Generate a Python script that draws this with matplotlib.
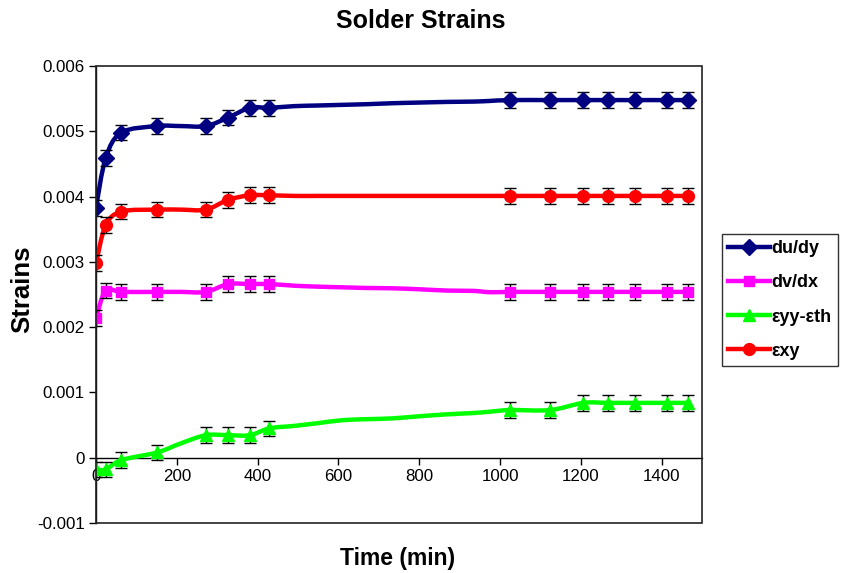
import numpy as np
import matplotlib
matplotlib.use("Agg")
import matplotlib.pyplot as plt
from matplotlib.path import Path
from matplotlib.patches import PathPatch, Rectangle
from matplotlib.lines import Line2D

plt.rcParams['font.family'] = ['Liberation Sans', 'DejaVu Sans']

# ---- data ----
time_min = [0, 24, 63, 151, 210, 272, 327, 381, 429, 490, 550, 610, 670, 735,
            800, 870, 935, 975, 1025, 1124, 1206, 1268, 1334, 1414, 1466]
# which points carry a marker + error bar
marked = [1, 1, 1, 1, 0, 1, 1, 1, 1, 0, 0, 0, 0, 0,
          0, 0, 0, 0, 1, 1, 1, 1, 1, 1, 1]

du_dy = [0.00383, 0.00459, 0.00498, 0.00508, 0.00508, 0.00508, 0.00521, 0.00536, 0.00536,
         0.005385, 0.005395, 0.005405, 0.005415, 0.00543, 0.00544, 0.00545, 0.005455, 0.005465,
         0.005478, 0.005478, 0.005478, 0.005478, 0.005478, 0.005478, 0.005478]
dv_dx = [0.00214, 0.00256, 0.00254, 0.00254, 0.00254, 0.00254, 0.00266, 0.00266, 0.00266,
         0.002635, 0.00262, 0.00261, 0.0026, 0.002595, 0.00258, 0.00256, 0.002555, 0.002535,
         0.00254, 0.00254, 0.00254, 0.00254, 0.00254, 0.00254, 0.00254]
eyy_eth = [-0.00018, -0.00018, -0.000035, 0.00008, 0.00022, 0.000345, 0.000345, 0.000345, 0.00045,
           0.000487, 0.00053, 0.000575, 0.00059, 0.000603, 0.000635, 0.000665, 0.000685, 0.000705,
           0.00073, 0.00073, 0.00084, 0.00084, 0.00084, 0.00084, 0.00084]
exy = [0.00298, 0.00356, 0.00377, 0.0038, 0.0038, 0.0038, 0.00395, 0.00402, 0.00402,
       0.00401, 0.00401, 0.00401, 0.00401, 0.00401, 0.00401, 0.00401, 0.00401, 0.00401,
       0.00401, 0.00401, 0.00401, 0.00401, 0.00401, 0.00401, 0.00401]
err = 0.00012

series_names = ['du/dy', 'dv/dx', 'εyy-εth', 'εxy']
series_vals = [du_dy, dv_dx, eyy_eth, exy]
colors = ['#000080', '#FF00FF', '#00FF00', '#FF0000']
markers = ['D', 's', '^', 'o']
msizes = [8, 7, 8.5, 8.5]

xticks = [0, 200, 400, 600, 800, 1000, 1200, 1400]
yticks = [-0.001, 0, 0.001, 0.002, 0.003, 0.004, 0.005, 0.006]
ytick_labels = ['-0.001', '0', '0.001', '0.002', '0.003', '0.004', '0.005', '0.006']


def smooth_path(x, y):
    """Excel-like smoothed line built from Bezier segments through the data points."""
    x = np.asarray(x, float)
    y = np.asarray(y, float)
    n = len(x)
    verts = [(x[0], y[0])]
    codes = [Path.MOVETO]
    for i in range(n - 1):
        p0 = np.array([x[max(i - 1, 0)], y[max(i - 1, 0)]])
        p1 = np.array([x[i], y[i]])
        p2 = np.array([x[i + 1], y[i + 1]])
        p3 = np.array([x[min(i + 2, n - 1)], y[min(i + 2, n - 1)]])
        c1 = p1 + (p2 - p0) / 6.0
        c2 = p2 - (p3 - p1) / 6.0
        verts += [tuple(c1), tuple(c2), tuple(p2)]
        codes += [Path.CURVE4, Path.CURVE4, Path.CURVE4]
    return Path(verts, codes)


fig = plt.figure(figsize=(8.46, 5.73), dpi=100)
ax = fig.add_axes([96 / 846, 50 / 573, (702 - 96) / 846, (523 - 66) / 573])

t = np.array(time_min)
m = np.array(marked, bool)
handles = []
for name, vals, c, mk, ms in zip(series_names, series_vals, colors, markers, msizes):
    v = np.array(vals)
    ax.add_patch(PathPatch(smooth_path(t, v), fill=False, edgecolor=c, lw=3.2,
                           capstyle='round', joinstyle='round', zorder=3))
    ax.errorbar(t[m], v[m], yerr=err, fmt='none', ecolor='black', elinewidth=1,
                capsize=4.5, capthick=1, zorder=4)
    ax.plot(t[m], v[m], linestyle='none', marker=mk, ms=ms, color=c, zorder=5)
    handles.append(Line2D([], [], color=c, lw=3.2, marker=mk, ms=ms))

ax.set_xlim(0, 1500)
ax.set_ylim(-0.001, 0.006)
ax.set_xticks(xticks)
ax.set_xticklabels([str(v) for v in xticks])
ax.set_yticks(yticks)
ax.set_yticklabels(ytick_labels)

ax.spines['bottom'].set_position(('data', 0))
for s in ['top', 'right']:
    ax.spines[s].set_visible(False)
ax.spines['left'].set_linewidth(1)
ax.spines['bottom'].set_linewidth(1)
ax.add_patch(Rectangle((0, 0), 1, 1, transform=ax.transAxes, fill=False,
                       edgecolor='#222222', lw=1.2, clip_on=False, zorder=6))
ax.tick_params(axis='both', direction='out', length=5, width=1, labelsize=12.2, pad=3)

fig.text(421 / 846, 1 - 21 / 573, 'Solder Strains', fontsize=18, fontweight='bold',
         ha='center', va='center')
fig.text(22 / 846, 1 - 289 / 573, 'Strains', rotation=90, fontsize=18.5,
         fontweight='bold', ha='center', va='center')
fig.text(398 / 846, 1 - 558 / 573, 'Time (min)', fontsize=16.5,
         fontweight='bold', ha='center', va='center')

leg = fig.legend(handles, series_names, loc='upper left',
                 bbox_to_anchor=(721.7 / 846, 1 - 234 / 573),
                 bbox_transform=fig.transFigure,
                 prop={'weight': 'bold', 'size': 13}, frameon=True, fancybox=False,
                 edgecolor='black', handlelength=2.3, handletextpad=0.1,
                 labelspacing=0.95, borderpad=0.35, borderaxespad=0)
leg.get_frame().set_linewidth(1)

fig.savefig('out.png', dpi=100)
